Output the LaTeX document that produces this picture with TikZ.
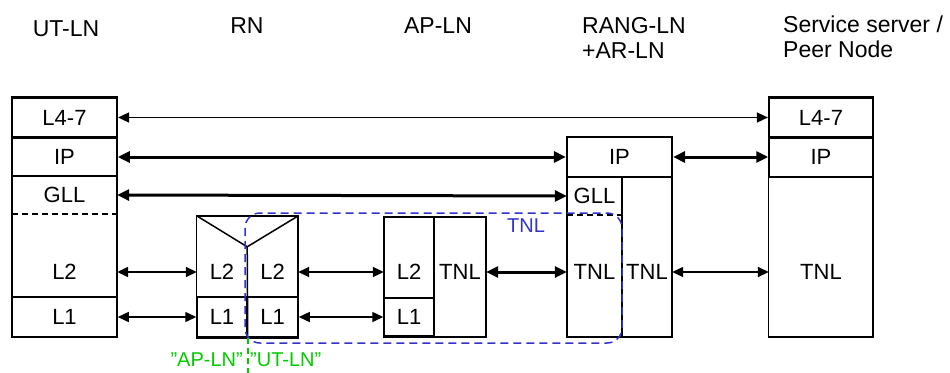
\documentclass[tikz,border=0pt]{standalone}
\usepackage{fontspec}
\setmainfont{Liberation Sans}
\definecolor{tnlblue}{RGB}{51,51,204}
\definecolor{lngreen}{RGB}{0,204,0}
\usetikzlibrary{arrows.meta}

\begin{document}
\begin{tikzpicture}[x=1pt,y=-1pt,
    sz/.style 2 args={minimum width=#1pt,minimum height=#2pt},
    cell/.style={draw,line width=1.5pt,inner sep=0pt,font=\fontsize{22}{26}\selectfont},
    lbl/.style={inner sep=0pt,font=\fontsize{22}{26}\selectfont},
    box/.style={draw,line width=1.5pt},
    divisa/.style={line width=2.5pt},
    camada/.style={line width=2pt,dash pattern=on 6pt off 4pt},
    seta/.style={{Triangle[length=11pt,width=10pt]}-{Triangle[length=11pt,width=10pt]},line width=1.5pt},
    setagrossa/.style={{Triangle[length=12pt,width=11pt]}-{Triangle[length=12pt,width=11pt]},line width=3pt},
    titulo/.style={font=\fontsize{23}{25}\selectfont,align=left,inner sep=0pt}]

        \useasboundingbox (0,0) rectangle (950,372);

        % Titulos das colunas
        \node[titulo] (tut) at (66,28.5) {UT-LN};
        \node[titulo] (trn) at (247,25.5) {RN};
        \node[titulo] (tap) at (438,25.5) {AP-LN};
        \node[titulo,anchor=north west] (trang) at (582,17) {RANG-LN\\+AR-LN};
        \node[titulo,anchor=north west] (tss) at (783,16) {Service server /\\Peer Node};

        % Pilha UT-LN
        \node[cell,sz={105}{38}] (utip) at (64.5,157) {IP};
        \node[cell,sz={105}{40},line width=2.2pt] (ut47) at (64.5,117.5) {L4-7};
        \node[lbl,sz={105}{38}] (utgll) at (64.5,195) {GLL};
        \node[lbl,sz={105}{50}] (utl2) at (64.5,272) {L2};
        \node[cell,sz={105}{40}] (utl1) at (64.5,317) {L1};
        \draw[box] (utgll.north west) rectangle (utl2.south east);
        \draw[camada] (utgll.south west) -- (utgll.south east);

        % RN
        \node[lbl,sz={50}{50}] (rnl2a) at (222,272) {L2};
        \node[lbl,sz={51}{50}] (rnl2b) at (272.5,272) {L2};
        \node[cell,sz={50}{40}] (rnl1a) at (222,317) {L1};
        \node[cell,sz={51}{40}] (rnl1b) at (272.5,317) {L1};
        \coordinate (rntl) at (197,216);
        \coordinate (rntr) at (298,216);
        \draw[box] (rnl1a.south west) rectangle (rntr);
        \draw[line width=1.5pt] (rntl) -- (rnl2a.north east) -- (rntr);
        \draw[line width=1.5pt] (rnl2a.north east) -- (rnl1a.south east);

        % AP-LN
        \node[lbl,sz={50}{50}] (apl2) at (409,272) {L2};
        \node[cell,sz={50}{38}] (apl1) at (409,317) {L1};
        \node[lbl,sz={52}{50}] (aptnl) at (460,272) {TNL};
        \coordinate (aptl) at (384,217);
        \draw[box] (aptl) rectangle (aptnl.east |- apl1.south);
        \draw[divisa] (aptnl.west |- aptl) -- (aptnl.west |- apl1.south);

        % RANG-LN + AR-LN
        \node[lbl,sz={55}{38}] (rggll) at (594.5,196) {GLL};
        \node[lbl,sz={55}{50}] (rgtnla) at (594.5,272) {TNL};
        \node[lbl,sz={50}{50}] (rgtnlb) at (647,272) {TNL};
        \coordinate (rgbot) at (619.5,337);
        \draw[box] (rggll.north west) rectangle (rgtnlb.east |- rgbot);
        \node[cell,sz={105}{40},line width=2.2pt] (rgip) at (619.5,157) {IP};
        \draw[divisa] (rggll.north east) -- (rggll.north east |- rgbot);
        \draw[camada] (rggll.south west) -- (rggll.south east);

        % Service server / Peer Node
        \node[cell,sz={104}{39}] (ssip) at (821,157) {IP};
        \node[cell,sz={104}{40},line width=2.2pt] (ss47) at (821,117.5) {L4-7};
        \node[lbl,sz={104}{50}] (sstnl) at (821,272) {TNL};
        \coordinate (ssbot) at (821,337);
        \draw[box] (ssip.south west) rectangle (sstnl.east |- ssbot);

        % Dominio TNL (tracejado azul)
        \draw[tnlblue,line width=1.5pt,dash pattern=on 8pt off 5pt,rounded corners=15pt]
            (245,213) rectangle (622,343);
        \node[font=\fontsize{20}{24}\selectfont,text=tnlblue,inner sep=0pt] (tnllab) at (526,225.5) {TNL};

        % Divisao "AP-LN" / "UT-LN" no RN
        \draw[lngreen,line width=1.5pt,dash pattern=on 6pt off 4pt]
            (rnl1a.south east) -- ++(0,36);
        \node[font=\fontsize{20}{24}\selectfont,text=lngreen,inner sep=0pt,anchor=east] (gap) at (243,360) {”AP-LN”};
        \node[font=\fontsize{20}{24}\selectfont,text=lngreen,inner sep=0pt,anchor=west] (gut) at (250,360) {”UT-LN”};

        % Setas entre camadas
        \draw[seta] (ut47.east) -- (ss47.west);
        \draw[setagrossa] (utip.east) -- (rgip.west);
        \draw[setagrossa] (rgip.east) -- (ssip.west);
        \draw[setagrossa] (utgll.east) -- (rggll.west);
        \draw[seta] (utl2.east) -- (rnl2a.west);
        \draw[seta] (rnl2b.east) -- (apl2.west);
        \draw[setagrossa] (aptnl.east) -- (rgtnla.west);
        \draw[seta] (rgtnlb.east) -- (sstnl.west);
        \draw[seta] (utl1.east) -- (rnl1a.west);
        \draw[seta] (rnl1b.east) -- (apl1.west);

\end{tikzpicture}
\end{document}
